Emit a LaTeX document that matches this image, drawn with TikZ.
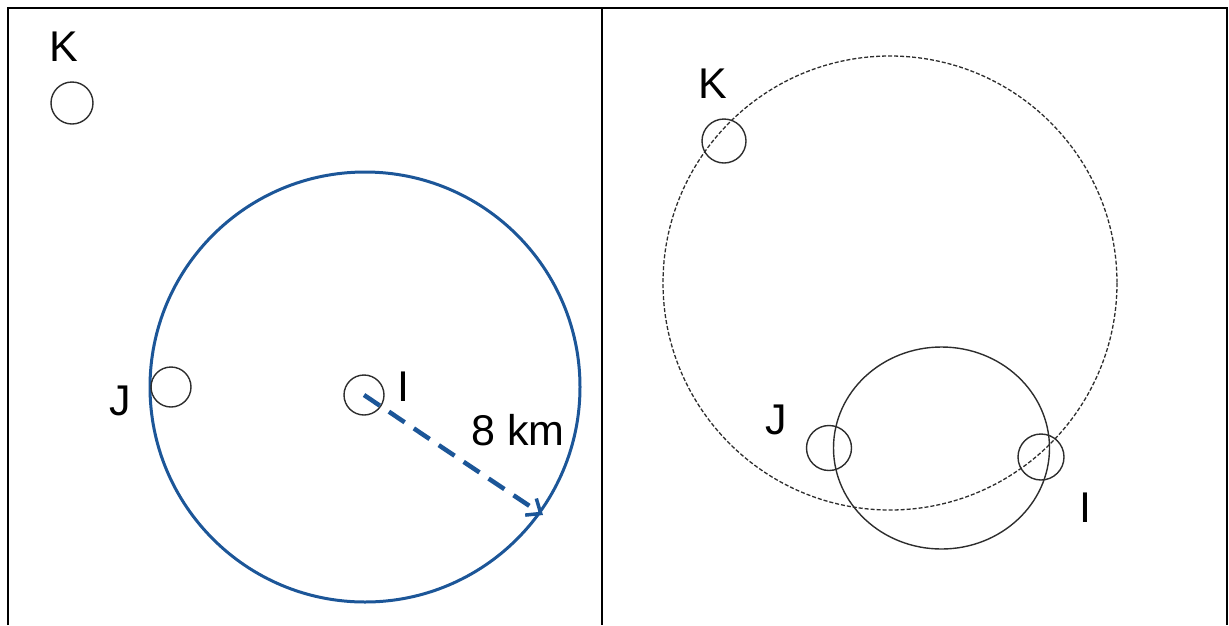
\documentclass[tikz,border=0pt]{standalone}
\usepackage{fontspec}
\setmainfont{Liberation Sans}
\usetikzlibrary{arrows.meta}
\definecolor{bluec}{RGB}{28,86,152}
\definecolor{darkc}{RGB}{45,45,45}
\begin{document}
\begin{tikzpicture}[x=1pt,y=-1pt,
  town/.style={circle, draw=darkc, line width=1.4pt, inner sep=0pt},
  lbl/.style={font=\fontsize{43}{43}\selectfont, inner sep=0pt, anchor=center},
  framelines/.style={line width=2pt, black},
  rangecircle/.style={line width=3pt, bluec},
  arrowline/.style={line width=4.5pt, bluec, dash pattern=on 19pt off 11pt, -{Straight Barb[length=12pt,width=20pt,line width=3.5pt]}},
  dcircle/.style={line width=1.3pt, darkc, dash pattern=on 4pt off 2pt},
  scircle/.style={line width=1.4pt, darkc}]
\useasboundingbox (0,0) rectangle (1229,625);
% frame
\draw[framelines] (8,625) -- (8,8) -- (1227,8) -- (1227,625);
\draw[framelines] (602,8) -- (602,625);
% left panel
\node[lbl] (kL) at (64,47) {K};
\node[town, minimum size=42pt] (tkL) at (72,103) {};
\draw[rangecircle] (365,387) circle[radius=215];
\node[town, minimum size=40pt] (tjL) at (171,387) {};
\node[lbl] (jL) at (120,401) {J};
\node[town, minimum size=40pt] (tiL) at (364,395) {};
\node[lbl] (iL) at (403,387) {I};
\node[lbl] (km) at (518,430) {8 km};
\coordinate (tip) at (543,515);
\draw[arrowline] (tiL.center) -- (tip);
% right panel
\draw[dcircle] (890,283) circle[radius=227];
\draw[scircle] (941.5,448) ellipse[x radius=108, y radius=101];
\node[lbl] (kR) at (713,84) {K};
\node[town, minimum size=44pt] (tkR) at (724,141) {};
\node[lbl] (jR) at (776,420) {J};
\node[town, minimum size=45pt] (tjR) at (829,448) {};
\node[town, minimum size=46pt] (tiR) at (1041,457) {};
\node[lbl] (iR) at (1085,508) {I};
\end{tikzpicture}
\end{document}
